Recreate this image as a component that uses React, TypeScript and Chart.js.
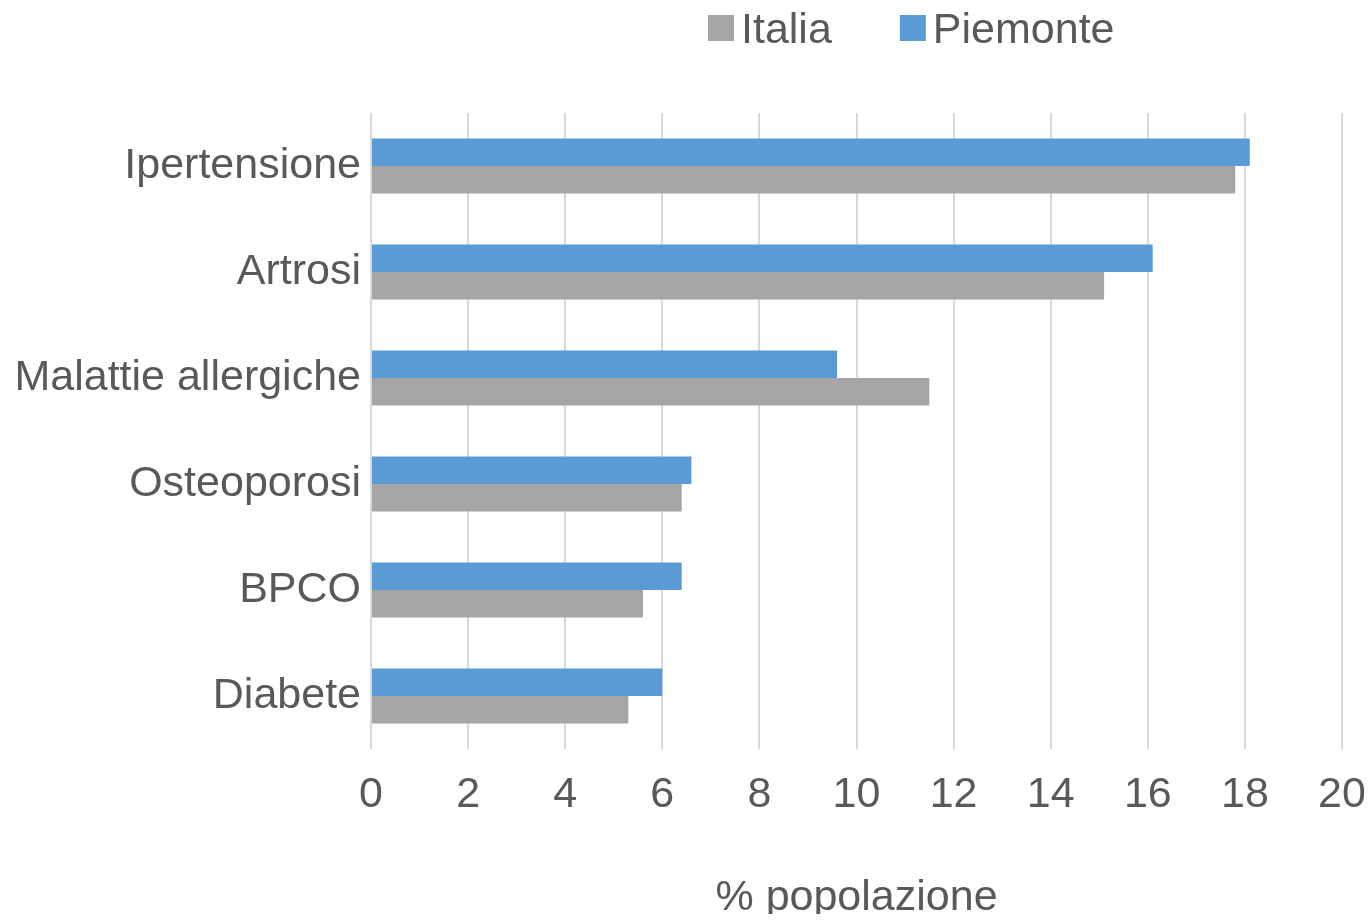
import React, { useEffect, useRef } from "react";
import { Chart, registerables } from "chart.js";

Chart.register(...registerables);

const categories = ["Ipertensione", "Artrosi", "Malattie allergiche", "Osteoporosi", "BPCO", "Diabete"];
const piemonteValues = [18.1, 16.1, 9.6, 6.6, 6.4, 6.0];
const italiaValues = [17.8, 15.1, 11.5, 6.4, 5.6, 5.3];
const xMin = 0;
const xMax = 20;
const xStep = 2;
const axisTitle = "% popolazione";
const seriesNames = ["Piemonte", "Italia"];

const TEXT = "#595959";
const FONT = "'Liberation Sans', Arial, sans-serif";
const FS = 43;

const customLegend = {
  id: "customLegend",
  afterDraw(chart: any) {
    const ctx = chart.ctx;
    const items = chart.data.datasets.slice().reverse();
    ctx.save();
    ctx.font = `${FS}px ${FONT}`;
    ctx.textBaseline = "alphabetic";
    ctx.textAlign = "left";
    let x = 700;
    const boxTop = 7;
    const box = 26;
    const baseline = 35;
    items.forEach((ds: any) => {
      ctx.fillStyle = ds.backgroundColor;
      ctx.fillRect(x, boxTop, box, box);
      ctx.fillStyle = TEXT;
      const tx = x + box + 7;
      ctx.fillText(ds.label, tx, baseline);
      x = tx + ctx.measureText(ds.label).width + 68;
    });
    ctx.restore();
  },
};

export default function App() {
  const ref = useRef<HTMLCanvasElement | null>(null);
  useEffect(() => {
    if (!ref.current) return;
    const chart = new Chart(ref.current, {
      type: "bar",
      data: {
        labels: categories,
        datasets: [
          {
            label: seriesNames[0],
            data: piemonteValues,
            backgroundColor: "#5b9bd5",
            categoryPercentage: 0.52,
            barPercentage: 1,
          },
          {
            label: seriesNames[1],
            data: italiaValues,
            backgroundColor: "#a5a5a5",
            categoryPercentage: 0.52,
            barPercentage: 1,
          },
        ],
      },
      options: {
        indexAxis: "y",
        responsive: false,
        animation: false,
        devicePixelRatio: 1,
        layout: { padding: { top: 105, right: 22, bottom: 0, left: 0 } },
        plugins: {
          legend: { display: false },
          tooltip: { enabled: false },
        },
        scales: {
          x: {
            min: xMin,
            max: xMax,
            ticks: {
              stepSize: xStep,
              color: TEXT,
              font: { family: FONT, size: FS },
              padding: 20,
            },
            grid: { color: "#d9d9d9", lineWidth: 2, drawTicks: false },
            border: { display: false },
            title: {
              display: true,
              text: axisTitle,
              color: TEXT,
              font: { family: FONT, size: FS, lineHeight: 0.75 },
              padding: 0,
            },
            afterFit(scale: any) {
              scale.height = 165;
              scale.paddingLeft = 0;
              scale.paddingRight = 0;
            },
          },
          y: {
            ticks: {
              color: TEXT,
              font: { family: FONT, size: FS },
              padding: 10,
            },
            grid: { display: false, drawTicks: false },
            border: { display: false },
            afterFit(scale: any) {
              scale.width = 363;
            },
          },
        },
      },
      plugins: [customLegend],
    });
    return () => chart.destroy();
  }, []);
  return (
    <div style={{ width: 1356, height: 906 }}>
      <canvas ref={ref} width={1356} height={906} style={{ display: "block" }} />
    </div>
  );
}
